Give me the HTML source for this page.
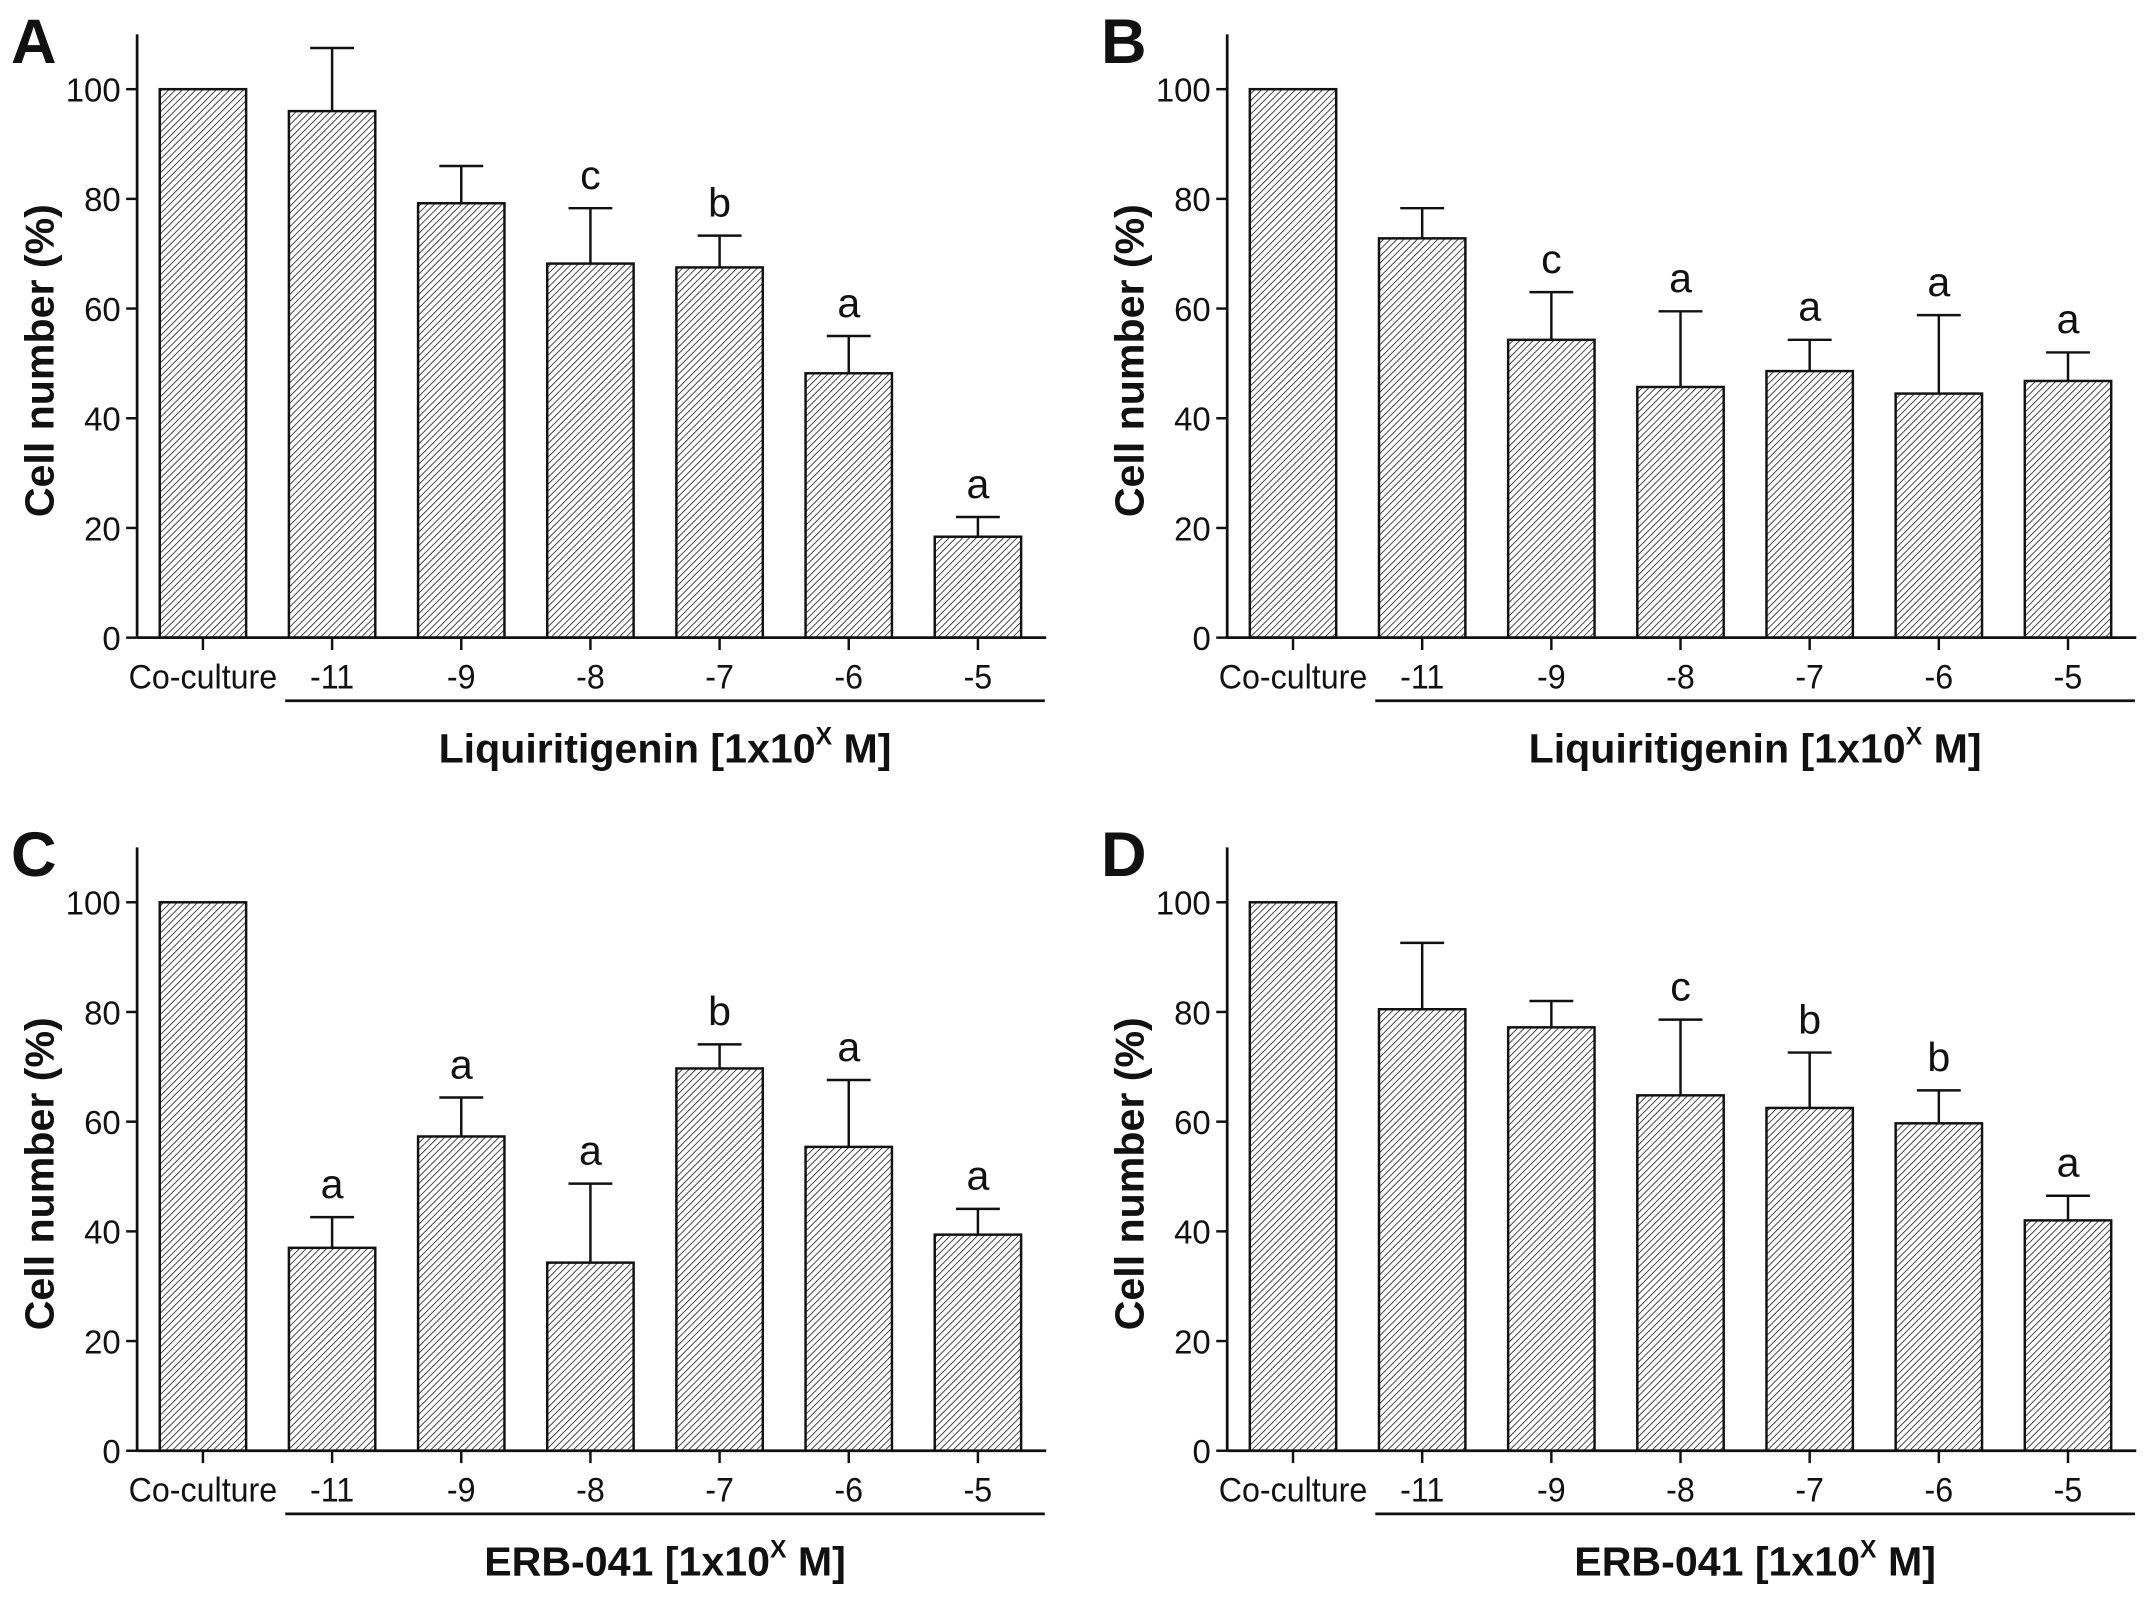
<!DOCTYPE html>
<html><head><meta charset="utf-8"><style>
html,body{margin:0;padding:0;background:#fff}
svg{display:block}
text{font-family:"Liberation Sans",Arial,sans-serif;fill:#111}
</style></head>
<body>
<svg id="fig" xmlns="http://www.w3.org/2000/svg" width="2150" height="1603" viewBox="0 0 1568 1169">
<defs>
<pattern id="hatch" patternUnits="userSpaceOnUse" width="3.5" height="3.5" patternTransform="rotate(45)">
<rect width="3.5" height="3.5" fill="#fff"/>
<line x1="0" y1="0" x2="0" y2="3.5" stroke="#222" stroke-width="1.2"/>
</pattern>
</defs>
</svg>
<script>
const categories = ["Co-culture","-11","-9","-8","-7","-6","-5"];
const valuesA = [100,96,79.2,68.2,67.5,48.2,18.4];
const errTopA = [100,107.5,86,78.3,73.3,55,22];
const lettersA = ["","","","c","b","a","a"];
const valuesB = [100,72.8,54.3,45.7,48.6,44.5,46.8];
const errTopB = [100,78.3,63,59.5,54.3,58.8,52];
const lettersB = ["","","c","a","a","a","a"];
const valuesC = [100,37,57.3,34.3,69.7,55.4,39.4];
const errTopC = [100,42.6,64.4,48.7,74.1,67.6,44.1];
const lettersC = ["","a","a","a","b","a","a"];
const valuesD = [100,80.5,77.2,64.8,62.5,59.7,42];
const errTopD = [100,92.6,82,78.6,72.6,65.7,46.5];
const lettersD = ["","","","c","b","b","a"];
const yTicks = [0,20,40,60,80,100];

const NS="http://www.w3.org/2000/svg";
const svg=document.getElementById('fig');
function mk(tag,attrs,parent){const e=document.createElementNS(NS,tag);for(const k in attrs)e.setAttribute(k,attrs[k]);(parent||svg).appendChild(e);return e;}

function panel(label,ox,oy,vals,tops,letters,title){
  const g=mk('g',{});
  
  
  const axX=ox+100, y0=oy+465, yTop=oy+25, xEnd=ox+763;
  const ys=v=>y0-v*4.0;
  const xs=i=>ox+148+i*94.2;
  const bw=63;
  const pl=mk('text',{x:ox+8,y:oy+46,'font-size':46,'font-weight':'bold'},g);pl.textContent=label;
  
  
  vals.forEach((v,i)=>{
    const b=mk('rect',{x:xs(i)-bw/2,y:ys(v),width:bw,height:y0-ys(v),fill:'url(#hatch)',stroke:'#111','stroke-width':1.8},g);
    
    
    if(tops[i]>v){
      const e=mk('path',{d:`M${xs(i)} ${ys(v)}V${ys(tops[i])}M${xs(i)-16} ${ys(tops[i])}H${xs(i)+16}`,stroke:'#111','stroke-width':1.8,fill:'none'},g);
      
      
    }
    if(letters[i]){
      const t=mk('text',{x:xs(i),y:ys(tops[i])-14,'font-size':30,'text-anchor':'middle'},g);t.textContent=letters[i];
      
      
    }
    mk('line',{x1:xs(i),y1:y0,x2:xs(i),y2:y0+9,stroke:'#111','stroke-width':1.8},g);
    const tl=mk('text',{x:xs(i),y:y0+37,'font-size':25,'text-anchor':'middle',transform:`translate(${xs(i)} 0) scale(0.94 1) translate(${-xs(i)} 0)`},g);tl.textContent=categories[i];
    
    
  });
  mk('line',{x1:axX,y1:yTop,x2:axX,y2:y0,stroke:'#111','stroke-width':2},g);
  mk('line',{x1:axX,y1:y0,x2:xEnd,y2:y0,stroke:'#111','stroke-width':2},g);
  yTicks.forEach(v=>{
    mk('line',{x1:axX-8,y1:ys(v),x2:axX,y2:ys(v),stroke:'#111','stroke-width':1.8},g);
    const t=mk('text',{x:axX-12,y:ys(v)+9,'font-size':24,'text-anchor':'end'},g);t.textContent=v;
    
    
  });
  const yt=mk('text',{x:0,y:0,'font-size':30,'font-weight':'bold','text-anchor':'middle',transform:`translate(${ox+39} ${oy+263}) rotate(-90)`},g);yt.textContent='Cell number (%)';
  
  
  mk('line',{x1:ox+208,y1:oy+511,x2:ox+762,y2:oy+511,stroke:'#111','stroke-width':2},g);
  const xt=mk('text',{x:ox+485,y:oy+556,'font-size':30,'font-weight':'bold','text-anchor':'middle'},g);
  
  
  const s1=mk('tspan',{},xt);s1.textContent=title+' [1x10';
  const s2=mk('tspan',{dy:-13,'font-size':18},xt);s2.textContent='X';
  const s3=mk('tspan',{dy:13},xt);s3.textContent=' M]';
}
panel('A',0,0,valuesA,errTopA,lettersA,'Liquiritigenin');
panel('B',795,0,valuesB,errTopB,lettersB,'Liquiritigenin');
panel('C',0,593,valuesC,errTopC,lettersC,'ERB-041');
panel('D',795,593,valuesD,errTopD,lettersD,'ERB-041');
</script>
</body></html>
